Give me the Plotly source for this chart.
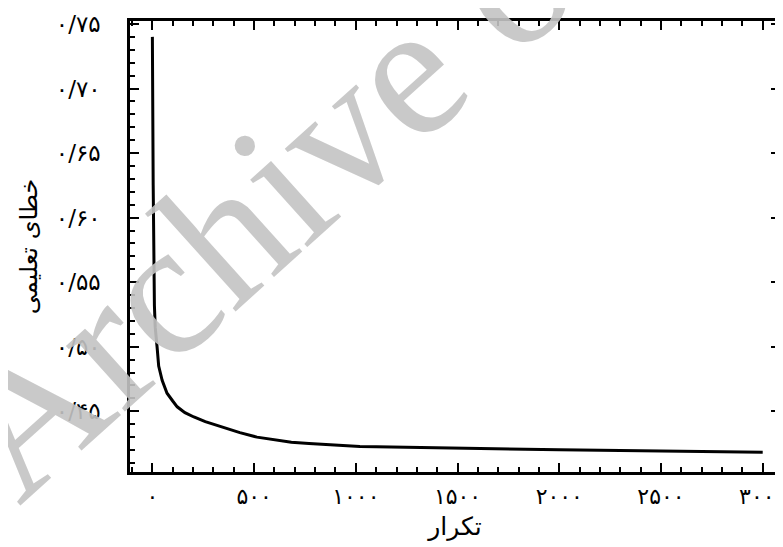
import plotly.graph_objects as go

iterations = [0, 3, 4, 10, 14, 23, 31, 48, 72, 100, 122, 160, 204, 260, 345, 430, 514, 600, 683,
              770, 852, 940, 1020, 1100, 1200, 1300, 1400, 1500, 1600, 1700, 1800, 1900, 2000,
              2100, 2200, 2300, 2400, 2500, 2600, 2700, 2800, 2900, 3000]
train_error = [0.740, 0.626, 0.625, 0.532, 0.515, 0.500, 0.485, 0.474, 0.464, 0.458, 0.4535,
               0.449, 0.4456, 0.442, 0.4377, 0.4335, 0.430, 0.428, 0.426, 0.425, 0.4242, 0.4235,
               0.4228, 0.4225, 0.4222, 0.4218, 0.4215, 0.4212, 0.421, 0.4208, 0.4206, 0.4204,
               0.4202, 0.420, 0.4198, 0.4196, 0.4194, 0.4192, 0.419, 0.4188, 0.4186, 0.4184, 0.4182]

x_tickvals = [0, 500, 1000, 1500, 2000, 2500, 3000]
x_ticktext = ["۰", "۵۰۰", "۱۰۰۰", "۱۵۰۰", "۲۰۰۰", "۲۵۰۰", "۳۰۰۰"]
y_tickvals = [0.45, 0.50, 0.55, 0.60, 0.65, 0.70, 0.75]
y_ticktext = ["۰/۴۵", "۰/۵۰", "۰/۵۵", "۰/۶۰", "۰/۶۵", "۰/۷۰", "۰/۷۵"]

x_title = "تکرار"
y_title = "خطای تعلیمی"
watermark = "Archive of SID"

FONT = "DejaVu Sans"
X_RANGE = [-110, 3085]
Y_RANGE = [0.403, 0.7523]

fig = go.Figure()
fig.add_trace(go.Scatter(x=iterations, y=train_error, mode="lines",
                         line=dict(color="black", width=3), showlegend=False))
# invisible copy on a twin subplot (same domain) that carries the top/right ticks
fig.add_trace(go.Scatter(x=iterations, y=train_error, mode="lines", xaxis="x2", yaxis="y2",
                         line=dict(color="rgba(0,0,0,0)", width=0), showlegend=False,
                         hoverinfo="skip"))

tick_common = dict(ticks="inside", tickwidth=2, tickcolor="black",
                   showgrid=False, zeroline=False, automargin=False)

fig.update_layout(
    xaxis=dict(range=X_RANGE, domain=[0, 1], tickvals=x_tickvals, ticktext=x_ticktext, ticklen=9,
               minor=dict(dtick=100, tick0=0, ticks="inside", ticklen=5, tickwidth=2,
                          tickcolor="black", showgrid=False),
               showline=True, linecolor="black", linewidth=2.5, mirror="allticks",
               tickfont=dict(family=FONT, size=22, color="black"),
               ticklabeloverflow="allow", ticklabelstandoff=3,
               title=dict(text=x_title, font=dict(family=FONT, size=25, color="black"),
                          standoff=10),
               **tick_common),
    yaxis=dict(range=Y_RANGE, domain=[0, 1], tickvals=y_tickvals, ticktext=y_ticktext, ticklen=9,
               minor=dict(dtick=0.01, tick0=0.4, ticks="inside", ticklen=5, tickwidth=2,
                          tickcolor="black", showgrid=False),
               showline=True, linecolor="black", linewidth=2.5, mirror="allticks",
               tickfont=dict(family=FONT, size=23, color="black"),
               ticklabelstandoff=22,
               title=dict(text=y_title, font=dict(family=FONT, size=24, color="black"),
                          standoff=12),
               **tick_common),
    xaxis2=dict(range=X_RANGE, domain=[0, 1], side="top", anchor="y2",
                tickmode="linear", tick0=0, dtick=100, ticklen=5, showticklabels=False,
                **tick_common),
    yaxis2=dict(range=Y_RANGE, domain=[0, 1], side="right", anchor="x2",
                tickmode="linear", tick0=0.4, dtick=0.01, ticklen=5, showticklabels=False,
                **tick_common),
)

fig.add_annotation(text=watermark, xref="paper", yref="paper", x=0.44, y=0.907,
                   xanchor="center", yanchor="middle",
                   showarrow=False, textangle=-42,
                   font=dict(family="Liberation Serif", size=192, color="rgba(195,195,195,0.9)"))

# the page body adds an 8px margin, so the figure is sized to fit the 783x547 window
fig.update_layout(width=775, height=539, margin=dict(l=122, r=3, t=13, b=75),
                  paper_bgcolor="white", plot_bgcolor="rgba(0,0,0,0)")

fig.write_html("out.html")
